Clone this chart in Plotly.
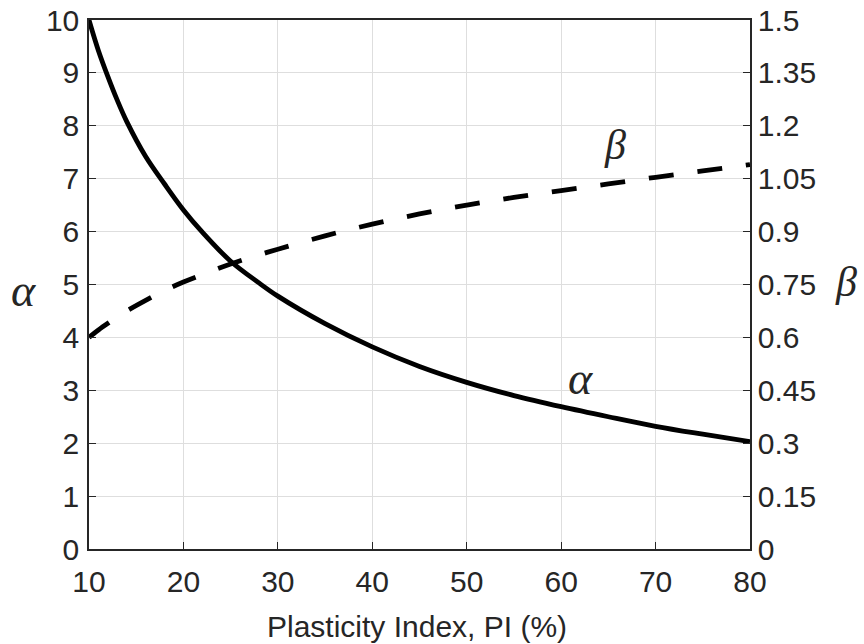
import plotly.graph_objects as go

pi_vals = [10, 11, 12, 13, 14, 16, 18, 20, 22, 25, 28, 30, 35, 40, 45, 50, 55, 60, 65, 70, 75, 80]
alpha_vals = [10.0, 9.42, 8.93, 8.48, 8.08, 7.42, 6.9, 6.41, 5.99, 5.44, 5.03, 4.78, 4.26, 3.82, 3.45, 3.15, 2.9, 2.69, 2.5, 2.32, 2.17, 2.03]
beta_vals = [0.60, 0.621, 0.64, 0.658, 0.675, 0.705, 0.733, 0.757, 0.778, 0.808, 0.834, 0.85, 0.888, 0.921, 0.95, 0.975, 0.997, 1.016, 1.035, 1.054, 1.072, 1.09]

x_ticks = [10, 20, 30, 40, 50, 60, 70, 80]
left_ticks = [0, 1, 2, 3, 4, 5, 6, 7, 8, 9, 10]
right_ticks = [0, 0.15, 0.3, 0.45, 0.6, 0.75, 0.9, 1.05, 1.2, 1.35, 1.5]
right_labels = ["0", "0.15", "0.3", "0.45", "0.6", "0.75", "0.9", "1.05", "1.2", "1.35", "1.5"]

TXT = "#262626"
FONT = "Liberation Sans, Arial, sans-serif"
SERIF = "Liberation Serif, Times New Roman, serif"
FS = 30

fig = go.Figure()
fig.add_trace(go.Scatter(x=pi_vals, y=alpha_vals, mode="lines", line=dict(color="black", width=4.8, shape="spline"),
                         showlegend=False, yaxis="y"))
fig.add_trace(go.Scatter(x=pi_vals, y=beta_vals, mode="lines", line=dict(color="black", width=4.8, dash="25px,24px", shape="spline"),
                         showlegend=False, yaxis="y2"))

fig.update_layout(
    width=864, height=644,
    margin=dict(l=89, r=114, t=20, b=95),
    paper_bgcolor="white", plot_bgcolor="white",
    font=dict(family=FONT, size=FS, color=TXT),
    xaxis=dict(range=[10, 80], tickvals=x_ticks, ticks="inside", ticklen=7, tickcolor=TXT,
               showline=True, linecolor=TXT, linewidth=1.5, mirror=True, automargin=False,
               showgrid=True, gridcolor="#dedede", gridwidth=1, zeroline=False, ticklabelstandoff=5,
               tickfont=dict(family=FONT, size=FS, color=TXT)),
    yaxis=dict(range=[0, 10], tickvals=left_ticks, ticks="inside", ticklen=7, tickcolor=TXT,
               showline=True, linecolor=TXT, linewidth=1.5, automargin=False, ticklabelstandoff=2,
               showgrid=True, gridcolor="#dedede", gridwidth=1, zeroline=False,
               tickfont=dict(family=FONT, size=FS, color=TXT)),
    yaxis2=dict(range=[0, 1.5], tickvals=right_ticks, ticktext=right_labels, overlaying="y", side="right",
                ticks="inside", ticklen=7, tickcolor=TXT, automargin=False,
                showline=True, linecolor=TXT, linewidth=1.5, showgrid=False, zeroline=False,
                tickfont=dict(family=FONT, size=FS, color=TXT)),
)

fig.add_annotation(x=0.496, y=-0.1456, xref="paper", yref="paper", text="Plasticity Index, PI (%)",
                   showarrow=False, font=dict(family=FONT, size=FS, color=TXT), yanchor="middle")
fig.add_annotation(x=-0.1014, y=0.4896, xref="paper", yref="paper", text="<i>α</i>", xshift=-13,
                   showarrow=False, font=dict(family=SERIF, size=46, color=TXT))
fig.add_annotation(x=1.1437, y=0.5047, xref="paper", yref="paper", text="<i>β</i>", xshift=14,
                   showarrow=False, font=dict(family=SERIF, size=42, color=TXT))
fig.add_annotation(x=65.7, y=7.64, xref="x", yref="y", text="<i>β</i>",
                   showarrow=False, font=dict(family=SERIF, size=42, color=TXT))
fig.add_annotation(x=62.0, y=3.23, xref="x", yref="y", text="<i>α</i>",
                   showarrow=False, font=dict(family=SERIF, size=46, color=TXT))

fig.write_html("out.html")
